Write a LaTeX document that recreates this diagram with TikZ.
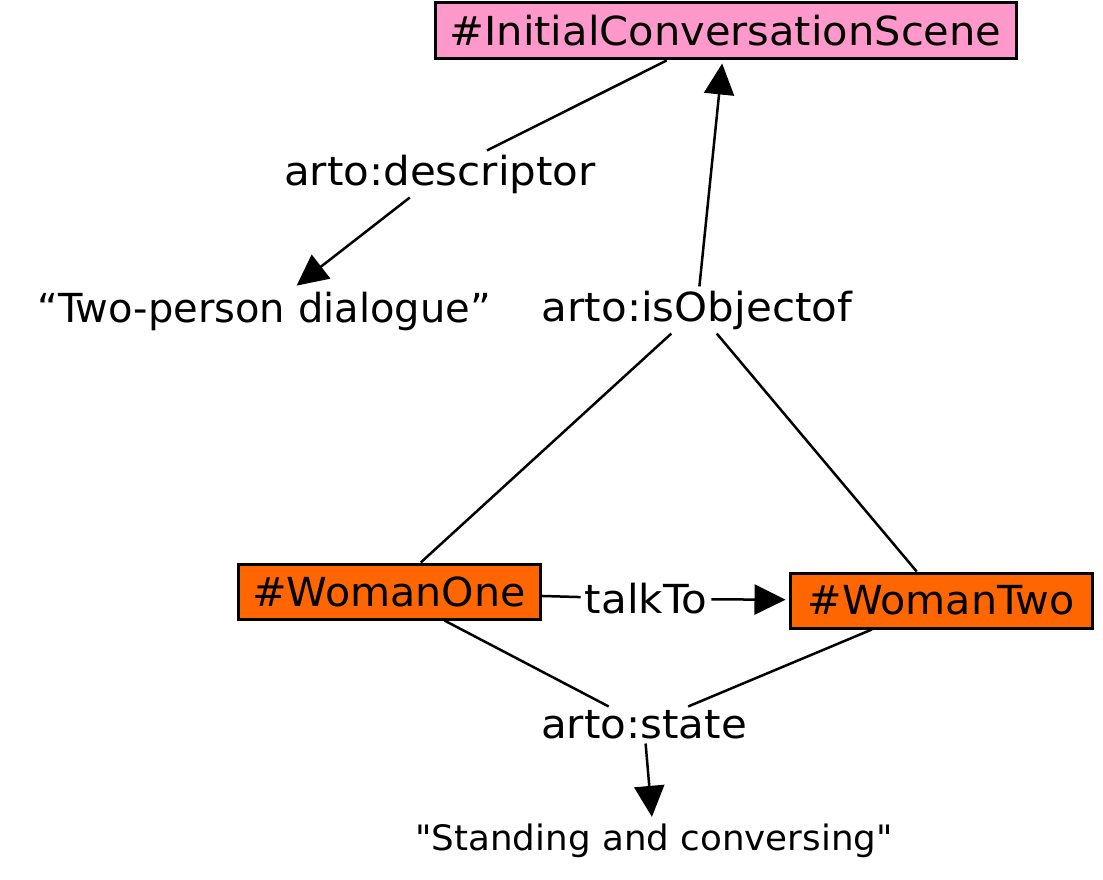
\documentclass[tikz,border=0pt]{standalone}
\usepackage{fontspec}
\setmainfont{DejaVu Sans}
\newfontfamily\fInit[FakeStretch=1.04]{DejaVu Sans}
\newfontfamily\fWom[FakeStretch=1.03]{DejaVu Sans}
\newfontfamily\fLab[FakeStretch=1.05]{DejaVu Sans}
\newfontfamily\fTwo[FakeStretch=1.0]{DejaVu Sans}
\newfontfamily\fStd[FakeStretch=1.02]{DejaVu Sans}
\usetikzlibrary{arrows.meta}
\definecolor{pinkfill}{HTML}{FF99CC}
\definecolor{orangefill}{HTML}{FF6600}
\tikzset{
  conn/.style={line width=2.5pt, draw=black},
  arr/.style={conn, shorten >=3pt, -{Triangle[length=31pt,width=30pt]}},
  initbox/.style={draw=black, line width=3pt, fill=pinkfill, minimum width=581pt, minimum height=56pt, inner sep=0pt, font=\fInit\fontsize{40}{46}\selectfont},
  wombox/.style={draw=black, line width=3pt, fill=orangefill, minimum width=302pt, minimum height=55pt, inner sep=0pt, font=\fWom\fontsize{40}{46}\selectfont},
  lab/.style={inner sep=4pt, font=\fLab\fontsize{40}{46}\selectfont},
  twolab/.style={inner sep=4pt, font=\fTwo\fontsize{40}{46}\selectfont},
  stdlab/.style={inner sep=4pt, font=\fStd\fontsize{35}{40}\selectfont}
}
\begin{document}
\begin{tikzpicture}[x=1pt,y=-1pt]
\useasboundingbox (0,0) rectangle (1103,880);
\node[initbox] (init) at (725.5,31) {\#InitialConversationScene};
\node[wombox] (w1) at (389,591.5) {\#WomanOne};
\node[wombox] (w2) at (941,600.5) {\#WomanTwo};
\node[lab] (desc) at (440,174) {arto:descriptor};
\node[twolab] (two) at (264,311) {“Two-person dialogue”};
\node[lab] (isobj) at (697,310) {arto:isObjectof};
\node[lab] (talk) at (646,599) {talkTo};
\node[lab] (state) at (644,725) {arto:state};
\node[stdlab] (stand) at (654,841) {"Standing and conversing"};
\draw[conn] (init) -- (desc);
\draw[arr] (desc) -- (two);
\draw[conn] (w1) -- (isobj);
\draw[conn] (w2) -- (isobj);
\draw[arr] (isobj) -- (init);
\draw[conn] (w1) -- (talk);
\draw[arr] (talk) -- (w2);
\draw[conn] (w1) -- (state);
\draw[conn] (w2) -- (state);
\draw[arr] (state) -- (stand);
\end{tikzpicture}
\end{document}
